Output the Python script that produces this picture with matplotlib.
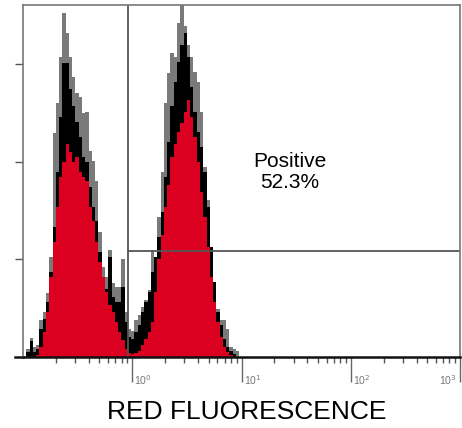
import matplotlib.pyplot as plt
import numpy as np

# histogram counts per channel bin (0.03 decade bins starting at 10^-0.97)
gray = [8, 19, 10, 12, 38, 46, 66, 103, 230, 261, 308, 353, 332, 308, 287, 271,
        267, 250, 251, 211, 201, 180, 128, 92, 82, 110, 76, 72, 72, 100, 46, 29,
        27, 38, 43, 51, 58, 69, 110, 97, 144, 190, 261, 291, 312, 308, 343, 365,
        339, 320, 308, 292, 282, 251, 195, 161, 108, 74, 49, 38, 38, 29, 10, 8, 6, 0]
black = [5, 16, 5, 8, 29, 39, 56, 87, 133, 190, 246, 302, 302, 275, 257, 241,
         226, 205, 200, 174, 154, 139, 108, 77, 70, 103, 62, 56, 56, 72, 36, 21,
         18, 26, 33, 46, 56, 67, 87, 103, 123, 149, 185, 221, 257, 282, 303, 320,
         332, 308, 277, 251, 231, 215, 190, 154, 113, 77, 46, 33, 18, 10, 6, 3, 0, 0]
red = [0, 0, 0, 2, 10, 26, 46, 82, 118, 154, 185, 200, 218, 210, 200, 205,
       190, 185, 180, 154, 139, 118, 97, 82, 67, 53, 46, 36, 26, 17, 8, 4,
       3, 4, 6, 12, 18, 26, 36, 67, 101, 125, 154, 176, 205, 218, 231, 240,
       251, 264, 246, 226, 200, 169, 144, 113, 82, 56, 36, 21, 10, 5, 2, 0, 0, 0]

gate_x = 0.914     # marker position
gate_y = 109       # horizontal gate level
label = "Positive\n52.3%"
xticks = [1, 10, 100, 1000]
xticklabels = ["10$^0$", "10$^1$", "10$^2$", "10$^3$"]

edges = 10 ** (-0.97 + 0.03 * np.arange(len(gray) + 1))

plt.rcParams['font.family'] = ['Liberation Sans', 'DejaVu Sans']
fig = plt.figure(figsize=(4.62, 4.28), dpi=100)
ax = fig.add_axes([0.0498, 0.1659, 0.9459, 0.8224])

ax.stairs(gray, edges, fill=True, color="#7a7a7a")
ax.stairs(black, edges, fill=True, color="#000000")
ax.stairs(red, edges, fill=True, color="#dc0020")

ax.axvline(gate_x, color="#555555", lw=1.3)
ax.plot([gate_x, 1000], [gate_y, gate_y], color="#555555", lw=1.3)

ax.set_xscale("log")
ax.set_xlim(0.1, 1000)
ax.set_ylim(0, 361)
ax.set_xticks(xticks)
ax.set_xticklabels([])
ax.set_yticks([100, 200, 300])
ax.set_yticklabels([])
ax.tick_params(axis="x", which="major", length=18, width=1, color="#666666")
ax.tick_params(axis="x", which="minor", length=4, width=1, color="#555555")
ax.tick_params(axis="y", length=6, width=1, color="#555555")

# tick labels sit beside the long major ticks
for xv, lbl in zip(xticks, xticklabels):
    last = xv == xticks[-1]
    ax.annotate(lbl, (xv, 0), xycoords=("data", "axes fraction"),
                xytext=(-3 if last else 2, -23), textcoords="offset pixels",
                ha="right" if last else "left", va="center",
                fontsize=7.5, color="#777777")

for s in ["top", "right", "left"]:
    ax.spines[s].set_color("#777777")
    ax.spines[s].set_linewidth(1.2)
ax.spines["bottom"].set_color("#111111")
ax.spines["bottom"].set_linewidth(1.8)
ax.plot([-0.019, 0], [0, 0], transform=ax.transAxes, clip_on=False,
        color="#111111", lw=1.8)

ax.text(27.8, 190, label, fontsize=15, ha="center", va="center", linespacing=1.15)
fig.text(0.535, 0.037, "RED FLUORESCENCE", fontsize=19, ha="center", va="center")

plt.savefig("out.png", dpi=100)
